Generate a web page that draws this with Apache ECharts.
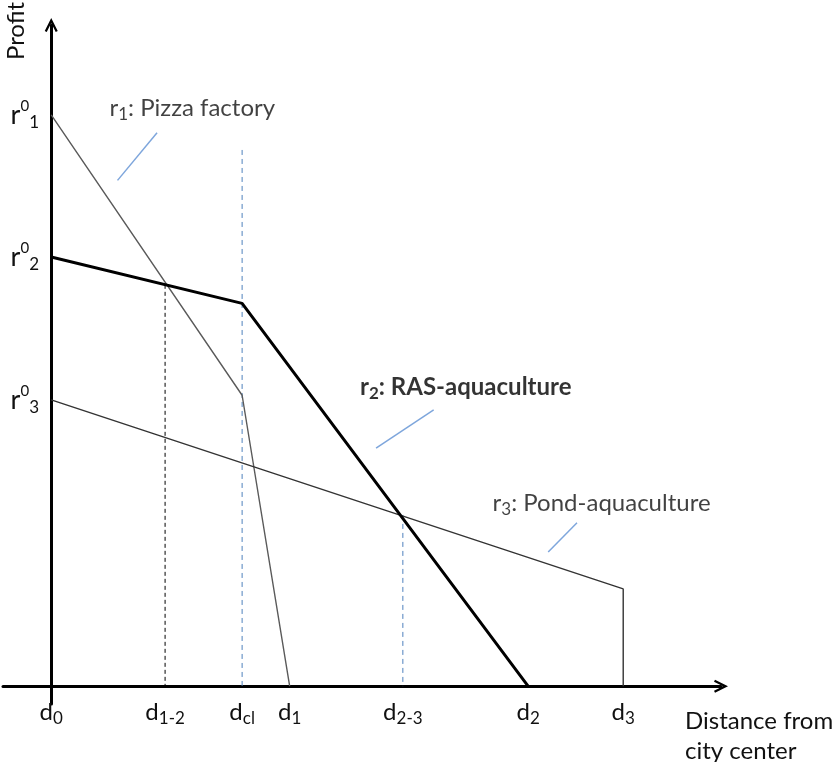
<!DOCTYPE html>
<html>
<head>
<meta charset="utf-8">
<title>Profit vs distance from city center</title>
<script src="https://cdn.jsdelivr.net/npm/echarts@6.0.0/dist/echarts.min.js"></script>
<style>
  html, body { margin: 0; padding: 0; background: #fff; }
  #chart { width: 834px; height: 762px; }
</style>
</head>
<body>
<div id="chart"></div>
<script>
// distance ticks (x) and profit ticks (y), in chart units
const dTicks = [0, 17.0, 28.5, 35.6, 52.5, 71.2, 85.4];
const dNames = [['d', '0'], ['d', '1-2'], ['d', 'cl'], ['d', '1'], ['d', '2-3'], ['d', '2'], ['d', '3']];
const rTicks = [86.4, 64.9, 43.3];
const rNames = ['1', '2', '3'];

// bid-rent lines
const r1Pizza = [[0, 86.4], [28.5, 44.0], [35.6, 0]];
const r2Ras = [[0, 64.9], [28.5, 57.9], [71.2, 0]];
const r3Pond = [[0, 43.3], [85.4, 14.7], [85.4, 0]];

// vertical guides
const guide12 = [[17.0, 60.7], [17.0, 0]];
const guideCl = [[28.5, 81.1], [28.5, 0]];
const guide23 = [[52.5, 25.9], [52.5, 0]];

// label pointers
const pointers = [
  [[9.9, 76.5], [15.8, 83.7]],
  [[48.5, 36.0], [57.1, 41.8]],
  [[74.2, 20.3], [78.5, 24.7]]
];

// curve names, anchored at their left edge
const curveLabels = [
  { value: [8.7, 87.4], text: '{b|r}{s|1}{b|: Pizza factory}' },
  { value: [46.1, 45.2], text: '{bb|r}{bs|2}{bb|: RAS-aquaculture}' },
  { value: [65.9, 27.7], text: '{b|r}{s|3}{b|: Pond-aquaculture}' }
];

const FONT = 'Lato';
const TXT = '#111';
const rich = {
  b: { fontFamily: FONT, fontSize: 24, color: TXT, lineHeight: 30 },
  s: { fontFamily: FONT, fontSize: 17, color: TXT, lineHeight: 12, verticalAlign: 'bottom' },
  bb: { fontFamily: FONT, fontSize: 24, color: '#000', fontWeight: 'bold', lineHeight: 30 },
  bs: { fontFamily: FONT, fontSize: 17, color: '#000', fontWeight: 'bold', lineHeight: 12, verticalAlign: 'bottom' },
  // profit tick labels are a bit larger
  yb: { fontFamily: FONT, fontSize: 27, color: TXT, lineHeight: 32 },
  yp: { fontFamily: FONT, fontSize: 15, color: TXT, lineHeight: 27, verticalAlign: 'top' },
  ys: { fontFamily: FONT, fontSize: 17, color: TXT, lineHeight: 12, verticalAlign: 'bottom' }
};

const chevron = 'path://M6.5,0 L13,13 L11,14 L6.5,5 L2,14 L0,13 Z';

function findIdx(list, v) {
  for (let i = 0; i < list.length; i++) {
    if (Math.abs(list[i] - v) < 1e-6) return i;
  }
  return -1;
}

function lineSeries(data, color, width, type) {
  return {
    type: 'line',
    data: data,
    symbol: 'none',
    silent: true,
    lineStyle: { color: color, width: width, type: type || 'solid' },
    z: 3
  };
}

const myChart = echarts.init(document.getElementById('chart'));

const series = [
  lineSeries(guide12, '#000', 1, [4, 3]),
  lineSeries(guideCl, '#4f81bd', 1, [5, 4]),
  lineSeries(guide23, '#4f81bd', 1, [5, 4]),
  lineSeries(r1Pizza, '#5a5a5a', 1.4),
  lineSeries(r3Pond, '#333', 1.4),
  lineSeries(r2Ras, '#000', 3)
];
pointers.forEach(function (p) {
  series.push(lineSeries(p, '#7ea6dc', 1.5));
});
series.push({
  type: 'scatter',
  symbolSize: 0,
  silent: true,
  data: curveLabels.map(function (c) { return { value: c.value, text: c.text }; }),
  label: {
    show: true,
    position: 'right',
    distance: 0,
    formatter: function (p) { return p.data.text; },
    rich: rich
  }
});

const option = {
  animation: false,
  backgroundColor: '#fff',
  grid: { left: 3, right: 113, top: 25, bottom: 58, outerBoundsMode: 'none', containLabel: false },
  xAxis: {
    type: 'value',
    min: -7.2,
    max: 100,
    splitLine: { show: false },
    axisTick: { show: false },
    axisLine: {
      onZero: true,
      symbol: ['none', chevron],
      symbolSize: [13, 14],
      lineStyle: { color: '#000', width: 3 }
    },
    // labels sit on the grid edge, so pull them up to the zero line
    axisLabel: {
      customValues: dTicks,
      margin: -7,
      formatter: function (v) {
        const i = findIdx(dTicks, v);
        if (i < 0) return '';
        return '{b|' + dNames[i][0] + '}{s|' + dNames[i][1] + '}';
      },
      rich: rich
    }
  },
  yAxis: {
    type: 'value',
    min: -2.7,
    max: 100,
    splitLine: { show: false },
    axisTick: { show: false },
    axisLine: {
      onZero: true,
      symbol: ['none', chevron],
      symbolSize: [13, 14],
      lineStyle: { color: '#000', width: 3 }
    },
    axisLabel: {
      customValues: rTicks,
      margin: -36,
      formatter: function (v) {
        const i = findIdx(rTicks, v);
        if (i < 0) return '';
        return '{yb|r}{yp|0}{ys|' + rNames[i] + '}';
      },
      rich: rich
    }
  },
  graphic: [
    {
      type: 'text',
      x: 16,
      y: 31,
      rotation: Math.PI / 2,
      style: { text: 'Profit', fontFamily: FONT, fontSize: 24, fill: TXT, align: 'center', verticalAlign: 'middle' }
    },
    {
      type: 'text',
      x: 685,
      y: 736,
      style: {
        text: 'Distance from\ncity center',
        fontFamily: FONT, fontSize: 24, lineHeight: 30, fill: TXT,
        align: 'left', verticalAlign: 'middle'
      }
    }
  ],
  series: series
};

myChart.setOption(option);
window.addEventListener('resize', function () { myChart.resize(); });
</script>
</body>
</html>
